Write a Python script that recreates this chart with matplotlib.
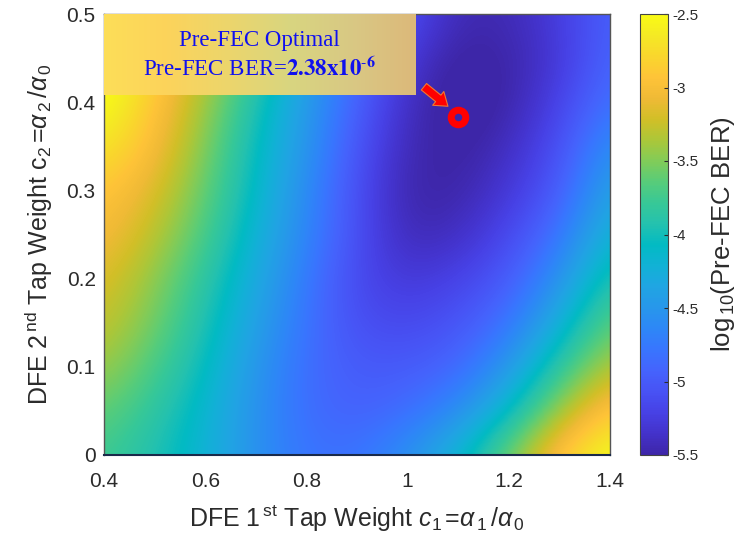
import numpy as np
import matplotlib
matplotlib.use("Agg")
import matplotlib.pyplot as plt
from matplotlib.colors import LinearSegmentedColormap
from matplotlib.patches import FancyArrowPatch

# DFE tap weight sweep
c1_vals = [0.4, 0.5, 0.6, 0.7, 0.8, 0.9, 1.0, 1.1, 1.2, 1.3, 1.4]
c2_vals = [0.0, 0.05, 0.10, 0.15, 0.20, 0.25, 0.30, 0.35, 0.40, 0.45, 0.50]

# log10(pre-FEC BER), one row per c2 (bottom -> top), columns follow c1_vals
log_ber = [
    [-3.75, -3.95, -4.20, -4.55, -4.80, -4.80, -4.55, -4.15, -3.55, -2.85, -2.45],
    [-3.60, -3.85, -4.15, -4.55, -4.85, -4.95, -4.85, -4.60, -4.10, -3.40, -2.85],
    [-3.40, -3.70, -4.05, -4.50, -4.85, -5.00, -5.00, -4.90, -4.50, -3.85, -3.30],
    [-3.25, -3.55, -3.95, -4.40, -4.80, -5.10, -5.15, -5.05, -4.80, -4.25, -3.60],
    [-3.15, -3.45, -3.85, -4.30, -4.75, -5.15, -5.30, -5.20, -5.00, -4.55, -3.90],
    [-3.00, -3.30, -3.70, -4.20, -4.65, -5.10, -5.45, -5.40, -5.15, -4.80, -4.15],
    [-2.90, -3.15, -3.60, -4.10, -4.60, -5.10, -5.50, -5.50, -5.30, -5.00, -4.35],
    [-2.65, -3.00, -3.50, -4.05, -4.50, -5.05, -5.45, -5.55, -5.40, -5.10, -4.55],
    [-2.45, -2.90, -3.40, -3.95, -4.45, -4.95, -5.40, -5.60, -5.50, -5.20, -4.80],
    [-2.35, -2.80, -3.25, -3.80, -4.35, -4.85, -5.30, -5.55, -5.50, -5.30, -4.90],
    [-2.30, -2.65, -3.10, -3.70, -4.25, -4.75, -5.10, -5.45, -5.45, -5.25, -4.95],
]

# optimum point
opt_c1 = 1.10
opt_c2 = 0.383
opt_ber = 2.38e-6

x_ticks = [0.4, 0.6, 0.8, 1.0, 1.2, 1.4]
x_labels = ["0.4", "0.6", "0.8", "1", "1.2", "1.4"]
y_ticks = [0, 0.1, 0.2, 0.3, 0.4, 0.5]
y_labels = ["0", "0.1", "0.2", "0.3", "0.4", "0.5"]
cb_ticks = [-5.5, -5, -4.5, -4, -3.5, -3, -2.5]
cb_labels = ["-5.5", "-5", "-4.5", "-4", "-3.5", "-3", "-2.5"]

# parula-like colormap
parula_pts = [
    (0.2422, 0.1504, 0.6603), (0.2647, 0.1978, 0.7952), (0.2783, 0.2559, 0.8991),
    (0.2810, 0.3228, 0.9579), (0.2699, 0.3892, 0.9906), (0.2206, 0.4603, 0.9973),
    (0.1786, 0.5289, 0.9682), (0.1540, 0.5902, 0.9218), (0.1248, 0.6459, 0.8883),
    (0.0689, 0.6948, 0.8394), (0.0067, 0.7312, 0.7660), (0.1408, 0.7584, 0.6842),
    (0.2161, 0.7843, 0.5923), (0.3406, 0.8008, 0.4789), (0.5044, 0.7993, 0.3480),
    (0.6720, 0.7793, 0.2227), (0.8203, 0.7498, 0.1535), (0.9393, 0.7288, 0.2100),
    (0.9970, 0.7659, 0.2199), (0.9786, 0.8386, 0.1766), (0.9597, 0.9135, 0.1423),
    (0.9769, 0.9839, 0.0805),
]
parula = LinearSegmentedColormap.from_list("parula", parula_pts, N=256)

box_cmap = LinearSegmentedColormap.from_list(
    "box", ["#fdde58", "#fcd35b", "#ecd66c", "#d8d580", "#d9c884", "#dcb97a"])

plt.rcParams["font.family"] = ["Liberation Sans", "DejaVu Sans"]
plt.rcParams["mathtext.fontset"] = "custom"
plt.rcParams["mathtext.rm"] = "Liberation Sans"
plt.rcParams["mathtext.it"] = "Liberation Sans:italic"
plt.rcParams["mathtext.bf"] = "Liberation Sans:bold"

txt_col = "#2b2b2b"

fig = plt.figure(figsize=(7.44, 5.48), dpi=100)
ax = fig.add_axes([104 / 744, 93 / 548, 506 / 744, 441 / 548])
cax = fig.add_axes([640 / 744, 93 / 548, 28 / 744, 441 / 548])

dx = (c1_vals[1] - c1_vals[0]) / 2
dy = (c2_vals[1] - c2_vals[0]) / 2
im = ax.imshow(np.array(log_ber), origin="lower", aspect="auto",
               extent=[c1_vals[0] - dx, c1_vals[-1] + dx, c2_vals[0] - dy, c2_vals[-1] + dy],
               cmap=parula, vmin=-5.5, vmax=-2.5, interpolation="bicubic", zorder=1)

# annotation box with gradient fill
box_right, box_bottom = 1.016, 0.408
grad = np.linspace(0, 1, 200).reshape(1, -1)
ax.imshow(grad, extent=[0.4, box_right, box_bottom, 0.5], aspect="auto",
          cmap=box_cmap, interpolation="bilinear", zorder=3)
ax.set_xlim(0.4, 1.4)
ax.set_ylim(0, 0.5)

exp = int(np.floor(np.log10(opt_ber)))
mant = opt_ber / 10 ** exp
ax.text(0.708, 0.4697, "Pre-FEC Optimal", ha="center", va="center",
        color="#1010ee", fontsize=16.5, family="Liberation Serif", zorder=4)
ax.text(0.708, 0.4376,
        r"Pre-FEC BER=$\mathbf{%.2fx10}^{\text{-}\mathbf{%d}}$" % (mant, abs(exp)),
        ha="center", va="center", color="#1010ee", fontsize=16.5,
        family="Liberation Serif", math_fontfamily="stix", zorder=4)

arrow = FancyArrowPatch((1.028, 0.4195), (1.084, 0.3934),
                        arrowstyle="simple,head_length=0.6,head_width=0.85,tail_width=0.4",
                        mutation_scale=15, fc="#ff0000", ec="#f07830", lw=0.8, zorder=5)
ax.add_patch(arrow)
ax.plot([opt_c1], [opt_c2], "o", ms=10.5, mew=5, mec="#ff0000", mfc="none", zorder=5)

ax.set_xticks(x_ticks)
ax.set_xticklabels(x_labels)
ax.set_yticks(y_ticks)
ax.set_yticklabels(y_labels)
ax.tick_params(axis="both", direction="in", length=0, labelsize=15, colors=txt_col)
ax.tick_params(axis="x", pad=12)
ax.tick_params(axis="y", pad=6)
for sp in ax.spines.values():
    sp.set_color("#555555")
    sp.set_linewidth(1.0)
ax.spines["bottom"].set_color("#1a2a4a")
ax.spines["bottom"].set_linewidth(1.5)

ax.set_xlabel(r"DFE 1$^{\,\rm st}$ Tap Weight $c_{1}\,$=$\alpha_{\,1}\,/\alpha_{\,0}$",
              fontsize=18, color=txt_col, labelpad=9)
ax.set_ylabel(r"DFE 2$^{\,\rm nd}$ Tap Weight c$_{2}\,$=$\alpha_{\,2}\,/\alpha_{\,0}$",
              fontsize=18, color=txt_col, labelpad=8)

cb = fig.colorbar(im, cax=cax, ticks=cb_ticks)
cb.ax.set_yticklabels(cb_labels)
cb.ax.tick_params(direction="in", length=3, labelsize=11, colors=txt_col, width=0.8)
cb.outline.set_edgecolor("#444444")
cb.outline.set_linewidth(0.8)
cb.set_label(r"log$_{\,10}$(Pre-FEC BER)", fontsize=18.5, color=txt_col, labelpad=7)

fig.savefig("out.png", dpi=100, facecolor="white")
